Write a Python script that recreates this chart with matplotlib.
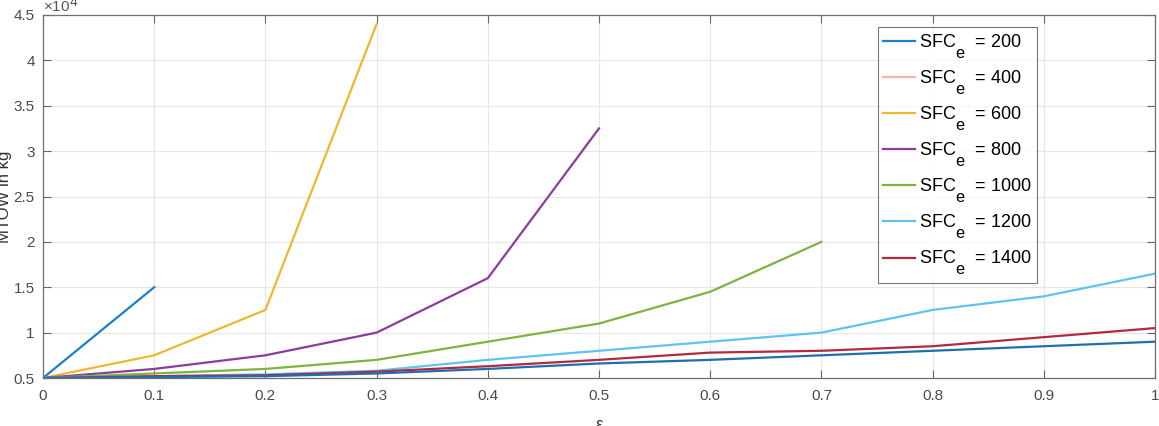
import matplotlib
matplotlib.use("Agg")
import matplotlib.pyplot as plt
from matplotlib.ticker import FuncFormatter, MultipleLocator
try:
    import matplotlib._mathtext as _mt
    _mt.SHRINK_FACTOR = 0.9
    _mt.FontConstantsBase.sub1 = 1.15
    _mt.FontConstantsBase.sub2 = 1.15
except Exception:
    pass

plt.rcParams['font.family'] = ['Liberation Sans', 'DejaVu Sans']
plt.rcParams['mathtext.fontset'] = 'custom'
plt.rcParams['mathtext.rm'] = 'Liberation Sans'
plt.rcParams['mathtext.it'] = 'Liberation Sans:italic'

# MTOW in units of 1e4 kg
eps_200 = [0.0, 0.1]
mtow_200 = [0.5, 1.5]

eps_400 = [0.0]
mtow_400 = [0.5]

eps_600 = [0.0, 0.1, 0.2, 0.3]
mtow_600 = [0.5, 0.75, 1.25, 4.4]

eps_800 = [0.0, 0.1, 0.2, 0.3, 0.4, 0.5]
mtow_800 = [0.5, 0.6, 0.75, 1.0, 1.6, 3.25]

eps_1000 = [0.0, 0.1, 0.2, 0.3, 0.4, 0.5, 0.6, 0.7]
mtow_1000 = [0.5, 0.55, 0.6, 0.7, 0.9, 1.1, 1.45, 2.0]

eps_1200 = [0.0, 0.1, 0.2, 0.3, 0.4, 0.5, 0.6, 0.7, 0.8, 0.9, 1.0]
mtow_1200 = [0.5, 0.52, 0.54, 0.58, 0.7, 0.8, 0.9, 1.0, 1.25, 1.4, 1.65]

eps_1400 = [0.0, 0.1, 0.2, 0.3, 0.4, 0.5, 0.6, 0.7, 0.8, 0.9, 1.0]
mtow_1400 = [0.5, 0.52, 0.53, 0.57, 0.63, 0.7, 0.78, 0.8, 0.85, 0.95, 1.05]

eps_1600 = [0.0, 0.1, 0.2, 0.3, 0.4, 0.5, 0.6, 0.7, 0.8, 0.9, 1.0]
mtow_1600 = [0.5, 0.51, 0.52, 0.55, 0.6, 0.66, 0.7, 0.75, 0.8, 0.85, 0.9]

sfc_labels = ['200', '400', '600', '800', '1000', '1200', '1400']
colors = ['#1f7fc4', '#F2B8A0', '#EDB830', '#8a3d99', '#7fb33f', '#5ec4ef', '#b02a40']

series = [(eps_200, mtow_200), (eps_400, mtow_400), (eps_600, mtow_600),
          (eps_800, mtow_800), (eps_1000, mtow_1000), (eps_1200, mtow_1200),
          (eps_1400, mtow_1400)]

fig = plt.figure(figsize=(11.59, 4.26), dpi=100)
ax = fig.add_axes([43/1159, 48/426, 1112/1159, 363/426])

for (x, y), lab, c in zip(series, sfc_labels, colors):
    ax.plot(x, y, color=c, lw=1.6, label='SFC$_\\mathregular{e}$  = ' + lab)
ax.plot(eps_1600, mtow_1600, color='#1f6fb0', lw=1.6)

ax.set_xlim(0, 1)
ax.set_ylim(0.5, 4.5)
ax.xaxis.set_major_locator(MultipleLocator(0.1))
ax.yaxis.set_major_locator(MultipleLocator(0.5))
ax.xaxis.set_major_formatter(FuncFormatter(lambda v, p: f'{v:g}'))
ax.yaxis.set_major_formatter(FuncFormatter(lambda v, p: f'{v:g}'))
ax.grid(True, color='#e6e6e6', lw=0.8)
ax.set_axisbelow(True)
ax.tick_params(direction='in', length=6, width=0.8, colors='#666666',
               labelcolor='#4a4a4a', labelsize=11, top=True, right=True)
ax.tick_params(axis='x', pad=8)
ax.tick_params(axis='y', pad=6)
for s in ax.spines.values():
    s.set_color('#6e6e6e')
    s.set_linewidth(0.9)

ax.set_xlabel('ε', fontsize=12, color='#333333', labelpad=10)
ax.set_ylabel('MTOW in kg', fontsize=12, color='#333333', labelpad=1)
ax.text(0.0, 1.0, '×10$^\\mathregular{4}$', transform=ax.transAxes,
        fontsize=11, color='#555555', va='bottom', ha='left')

leg = ax.legend(loc='upper right', bbox_to_anchor=(0.894, 0.967), fontsize=13,
                frameon=True, fancybox=False, edgecolor='#555555',
                handlelength=1.75, handletextpad=0.25, labelspacing=0.42,
                borderpad=0.3, borderaxespad=0)
leg.get_frame().set_linewidth(0.8)

fig.savefig('out.png', dpi=100)
